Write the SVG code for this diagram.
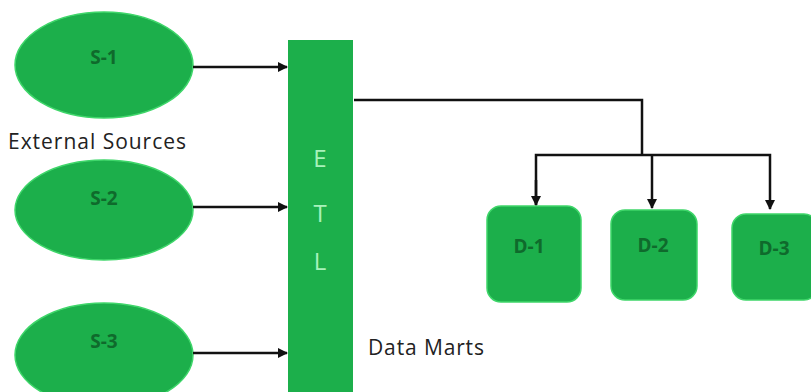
<svg xmlns="http://www.w3.org/2000/svg" width="811" height="392" viewBox="0 0 811 392">
<style>
.n{fill:#1caf4b;stroke:#3fd66a;stroke-width:1.5}
.t{font-family:"Open Sans","Liberation Sans",sans-serif;font-size:19px;font-weight:bold;fill:#0f6a2c;text-anchor:middle}
.l{font-family:"Open Sans","Liberation Sans",sans-serif;font-size:21px;fill:#222}
.e{font-family:"Open Sans","Liberation Sans",sans-serif;font-size:24px;fill:#a8f2bb;text-anchor:middle}
.c{fill:none;stroke:#111;stroke-width:2.5}
</style>
<defs>
<marker id="a" markerWidth="10" markerHeight="10" refX="9" refY="5" orient="auto" markerUnits="userSpaceOnUse">
<path d="M0,0 L10,5 L0,10 Z" fill="#111"/>
</marker>
</defs>
<rect width="811" height="392" fill="#fff"/>
<g id="S-1"><ellipse class="n" cx="104" cy="65" rx="89" ry="53"/><text class="t" x="104" y="64">S-1</text></g>
<g id="S-2"><ellipse class="n" cx="104" cy="210" rx="89" ry="50"/><text class="t" x="104" y="205">S-2</text></g>
<g id="S-3"><ellipse class="n" cx="104" cy="355" rx="89" ry="52"/><text class="t" x="104" y="348">S-3</text></g>
<g id="ETL"><rect x="288" y="40" width="65" height="360" fill="#1caf4b"/>
<text class="e" x="320" y="167">E</text><text class="e" x="320" y="222">T</text><text class="e" x="320" y="270">L</text></g>
<g id="D-1"><rect class="n" x="487" y="206" width="94" height="96" rx="14"/><text class="t" x="529" y="253">D-1</text></g>
<g id="D-2"><rect class="n" x="611" y="210" width="86" height="90" rx="14"/><text class="t" x="653" y="252">D-2</text></g>
<g id="D-3"><rect class="n" x="732" y="214" width="86" height="86" rx="14"/><text class="t" x="774" y="255">D-3</text></g>
<text class="l" x="8" y="149" textLength="178">External Sources</text>
<text class="l" x="368" y="355" textLength="116">Data Marts</text>
<g id="connectors">
<line class="c" x1="193" y1="67" x2="287" y2="67" marker-end="url(#a)"/>
<line class="c" x1="193" y1="207" x2="287" y2="207" marker-end="url(#a)"/>
<line class="c" x1="193" y1="353" x2="287" y2="353" marker-end="url(#a)"/>
<polyline class="c" points="354,100 642,100 642,155"/>
<polyline class="c" points="536,205 536,155 770,155 770,209" marker-end="url(#a)"/>
<line class="c" x1="652" y1="155" x2="652" y2="208" marker-end="url(#a)"/>
<line class="c" x1="536" y1="180" x2="536" y2="205" marker-end="url(#a)"/>
</g>
</svg>
